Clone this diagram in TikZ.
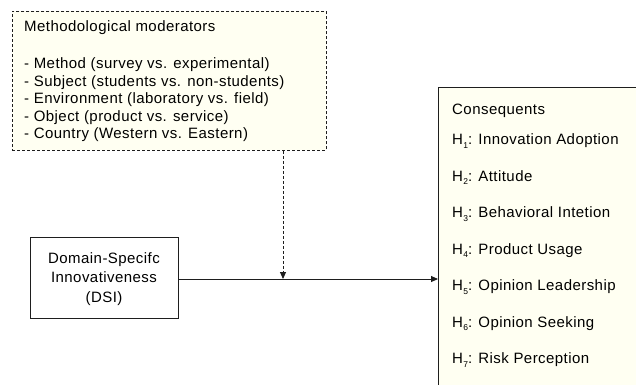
\documentclass[tikz,border=0pt]{standalone}
\usepackage{fontspec}
\setmainfont{Liberation Sans}[LetterSpace=3]
\usetikzlibrary{arrows.meta}
\definecolor{boxfill}{RGB}{255,255,242}
\definecolor{linec}{RGB}{30,30,30}
\newcommand{\hsubx}[1]{H\kern0.3pt\raisebox{-3.5pt}{\fontsize{8.5}{8.5}\selectfont #1}}
\tikzset{
  modbox/.style={draw=linec, fill=boxfill, dash pattern=on 3pt off 2pt, line width=0.9pt, rectangle, inner sep=0pt},
  solidbox/.style={draw=linec, line width=0.9pt, rectangle, inner sep=0pt},
  consbox/.style={draw=linec, fill=boxfill, line width=0.9pt, rectangle, inner sep=0pt},
  txt/.style={anchor=base west, inner sep=0pt, font=\fontsize{15}{17}\selectfont},
  ctxt/.style={align=center, inner sep=0pt, font=\fontsize{15}{19.5}\selectfont},
  conn/.style={draw=linec, line width=0.9pt, -{Triangle[length=7pt,width=6pt]}},
  dconn/.style={conn, dash pattern=on 3pt off 2pt}
}
\begin{document}
\begin{tikzpicture}[x=1pt,y=-1pt]
\useasboundingbox (0,0) rectangle (636,384);
% moderators box
\node[modbox, minimum width=314pt, minimum height=139pt, anchor=north west] (mod) at (12,11) {};
\node[txt] (modt) at (24,31.5) {Methodological moderators};
\node[txt] (m1) at (24,68.5) {- Method (survey vs. experimental)};
\node[txt] (m2) at (24,86) {- Subject (students vs. non-students)};
\node[txt] (m3) at (24,103.5) {- Environment (laboratory vs. field)};
\node[txt] (m4) at (24,121) {- Object (product vs. service)};
\node[txt] (m5) at (24,138.5) {- Country (Western vs. Eastern)};
% consequents box
\node[consbox, minimum width=210pt, minimum height=310pt, anchor=north west] (cons) at (438,87) {};
\node[txt] (ct) at (452,114.5) {Consequents};
\node[txt] (h1) at (452,144.5) {\hsubx{1}: Innovation Adoption};
\node[txt] (h2) at (452,181) {\hsubx{2}: Attitude};
\node[txt] (h3) at (452,217.5) {\hsubx{3}: Behavioral Intetion};
\node[txt] (h4) at (452,254) {\hsubx{4}: Product Usage};
\node[txt] (h5) at (452,290.5) {\hsubx{5}: Opinion Leadership};
\node[txt] (h6) at (452,327) {\hsubx{6}: Opinion Seeking};
\node[txt] (h7) at (452,363.5) {\hsubx{7}: Risk Perception};
% DSI box
\node[solidbox, fill=white, minimum width=148pt, minimum height=81pt] (dsi) at (104,277.5) {};
\node[ctxt] (dsit) at (104,279) {Domain-Specifc\\Innovativeness\\(DSI)};
% connectors
\coordinate (join) at (283,279);
\draw[conn] (dsi.east |- join) -- (cons.west |- join);
\draw[dconn] (mod.south -| join) -- (join);
\end{tikzpicture}
\end{document}
